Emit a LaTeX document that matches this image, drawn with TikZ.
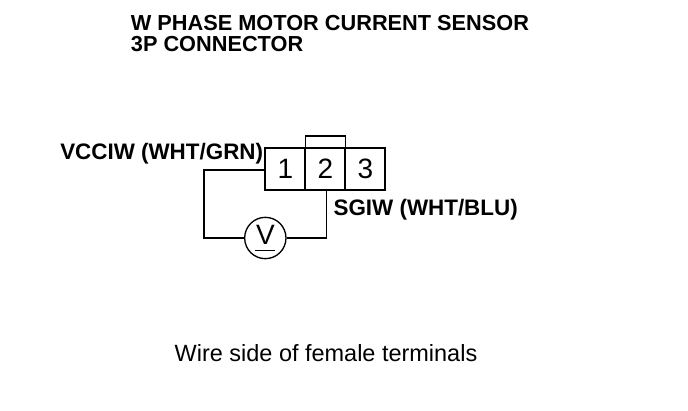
\documentclass[tikz,border=0pt]{standalone}
\usepackage{fontspec}
\setmainfont{Liberation Sans}
\usetikzlibrary{positioning}
\tikzset{
    pinbox/.style={draw,line width=1.3pt,minimum width=30pt,minimum height=31.5pt,inner sep=0pt,font=\fontsize{21}{21}\selectfont},
    boldlabel/.style={font=\bfseries\fontsize{16.8}{18}\selectfont,inner sep=0pt,anchor=west},
    wire/.style={line width=1pt}
}
\begin{document}
\begin{tikzpicture}[x=1pt,y=-1pt]
    \useasboundingbox (0,0) rectangle (516,307.5);

    % title
    \node[boldlabel,font=\bfseries\fontsize{16.3}{18}\selectfont] (titleA) at (98,17) {W PHASE MOTOR CURRENT SENSOR};
    \node[boldlabel,font=\bfseries\fontsize{16.3}{18}\selectfont] (titleB) at (98,33) {3P CONNECTOR};

    % connector
    \node[pinbox] (pinA) at (214,126.75) {1};
    \node[pinbox] (pinB) at (244,126.75) {2};
    \node[pinbox] (pinC) at (274,126.75) {3};
    \coordinate (lockL) at (229,111);
    \coordinate (lockR) at (259,111);
    \draw[wire] (lockL) -- ++(0,-9) -- ++(30,0) -- (lockR);

    % labels
    \node[boldlabel] (vcc) at (45,115.5) {VCCIW (WHT/GRN)};
    \node[boldlabel] (sgi) at (250,157.5) {SGIW (WHT/BLU)};

    % voltmeter
    \node[draw,circle,wire,minimum size=31pt,inner sep=0pt] (meter) at (199,178.5) {};
    \node[font=\fontsize{21}{21}\selectfont,inner sep=0pt] (meterV) at (199,176.5) {V};
    \coordinate (gndL) at (191.5,188);
    \coordinate (gndR) at (206.5,188);
    \draw[wire] (gndL) -- (gndR);
    \coordinate (wireA) at (153,127.5);
    \coordinate (wireB) at (245,178.5);
    \draw[wire] (pinA.west |- wireA) -- (wireA) -- (wireA |- meter) -- (meter);
    \draw[wire] (meter) -- (wireB) -- (pinB.south -| wireB);

    % footer
    \node[font=\fontsize{17.6}{20}\selectfont,inner sep=0pt] (foot) at (244.5,265) {Wire side of female terminals};
\end{tikzpicture}
\end{document}
